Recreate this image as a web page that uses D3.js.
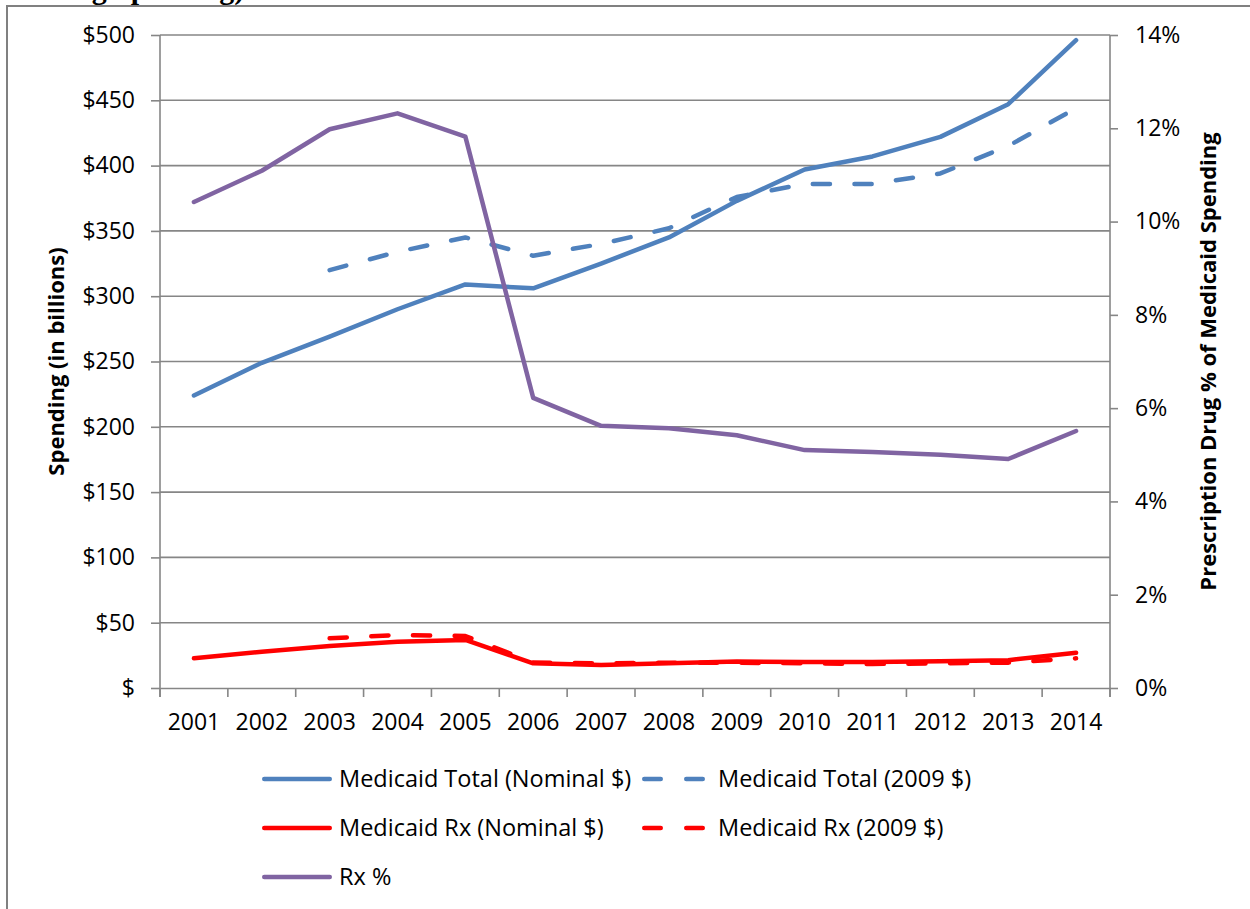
<!DOCTYPE html>
<html lang="en">
<head>
    <meta charset="UTF-8">
    <title>Medicaid Spending</title>
    <script src="https://d3js.org/d3.v7.min.js"></script>
    <style>
        body { margin: 0; background: #fff; }
        svg { display: block; }
        text { font-family: "Open Sans", Lato, sans-serif; fill: #000; }
        .axis path, .axis line { stroke: #868686; stroke-width: 1.6px; }
        .grid line { stroke: #868686; stroke-width: 1.6px; }
        .series { fill: none; stroke-width: 4.5px; stroke-linejoin: round; stroke-linecap: round; }
    </style>
</head>
<body>
    <svg width="1250" height="909"></svg>
    <script>
        // data
        const years = [2001, 2002, 2003, 2004, 2005, 2006, 2007, 2008, 2009, 2010, 2011, 2012, 2013, 2014];
        const totalNominal = [224, 249, 269, 290, 309, 306, 325, 345, 373, 397, 407, 422, 447, 496];
        const totalReal = [null, null, 320, 334, 345, 331, 340, 352, 376, 386, 386, 394, 415, 444];
        const rxNominal = [22.7, 27.8, 32.2, 35.5, 36.8, 18.9, 17.6, 19.0, 20.2, 20.0, 20.0, 20.5, 21.3, 27.0];
        const rxReal = [null, null, 38.0, 40.6, 39.8, 19.5, 18.9, 19.4, 19.4, 18.9, 18.4, 18.9, 19.4, 22.7];
        const rxPct = [10.42, 11.09, 11.98, 12.32, 11.82, 6.22, 5.62, 5.57, 5.42, 5.10, 5.06, 5.00, 4.91, 5.51];

        const leftTicks = [0, 50, 100, 150, 200, 250, 300, 350, 400, 450, 500];
        const rightTicks = [0, 2, 4, 6, 8, 10, 12, 14];

        const seriesNames = ["Medicaid Total (Nominal $)", "Medicaid Total (2009 $)", "Medicaid Rx (Nominal $)", "Medicaid Rx (2009 $)", "Rx %"];
        const seriesColors = ["#4f81bd", "#4f81bd", "#ff0000", "#ff0000", "#8064a2"];
        const seriesDashed = [false, true, false, true, false];

        const svg = d3.select("svg");

        const plotLeft = 160, plotRight = 1110, plotTop = 35, plotBottom = 688;

        const x = d3.scaleBand().domain(years).range([plotLeft, plotRight]);
        const xc = d => x(d) + x.bandwidth() / 2;
        const y = d3.scaleLinear().domain([0, 500]).range([plotBottom, plotTop]);
        const y2 = d3.scaleLinear().domain([0, 14]).range([plotBottom, plotTop]);

        // outer frame (only top and left edges visible)
        svg.append("rect")
            .attr("x", 7).attr("y", 6)
            .attr("width", 1400).attr("height", 1200)
            .attr("fill", "none")
            .attr("stroke", "#808080")
            .attr("stroke-width", 2);

        // title, cut off at the top edge of the picture
        svg.append("text")
            .attr("x", 40).attr("y", -1)
            .style("font-family", "'Liberation Serif', serif")
            .style("font-weight", "bold")
            .style("font-size", "30px")
            .text("Drug Spending)");

        // gridlines
        svg.append("g")
            .attr("class", "grid")
            .selectAll("line")
            .data(leftTicks.filter(d => d > 0))
            .enter().append("line")
            .attr("x1", plotLeft).attr("x2", plotRight)
            .attr("y1", d => y(d)).attr("y2", d => y(d));

        // left axis
        const gLeft = svg.append("g")
            .attr("class", "axis")
            .attr("transform", `translate(${plotLeft},0)`)
            .call(d3.axisLeft(y).tickValues(leftTicks).tickSize(9).tickSizeOuter(0).tickPadding(16)
                .tickFormat(d => d === 0 ? "$" : "$" + d));
        gLeft.select(".domain").attr("d", `M0,${plotTop}V${plotBottom + 9}`);
        gLeft.selectAll("text").style("font-size", "23px");

        // right axis
        const gRight = svg.append("g")
            .attr("class", "axis")
            .attr("transform", `translate(${plotRight},0)`)
            .call(d3.axisRight(y2).tickValues(rightTicks).tickSize(8).tickSizeOuter(0).tickPadding(17)
                .tickFormat(d => d + "%"));
        gRight.select(".domain").attr("d", `M0,${plotTop}V${plotBottom + 9}`);
        gRight.selectAll("text").style("font-size", "23px");

        // bottom axis: labels centred, ticks between categories
        const gBottom = svg.append("g")
            .attr("class", "axis")
            .attr("transform", `translate(0,${plotBottom})`)
            .call(d3.axisBottom(x).tickSize(0).tickSizeOuter(0).tickPadding(26));
        gBottom.selectAll("text").style("font-size", "23px");
        gBottom.selectAll(".tick line").remove();
        gBottom.selectAll("line.sep")
            .data(years.map(d => x(d)).concat([plotRight]))
            .enter().append("line")
            .attr("class", "sep")
            .attr("x1", d => d).attr("x2", d => d)
            .attr("y1", 0).attr("y2", 9);

        // axis titles
        svg.append("text")
            .attr("transform", `translate(64,${(plotTop + plotBottom) / 2}) rotate(-90)`)
            .attr("text-anchor", "middle")
            .style("font-weight", "bold")
            .style("font-size", "22px")
            .text("Spending (in billions)");

        svg.append("text")
            .attr("transform", `translate(1216,${(plotTop + plotBottom) / 2}) rotate(-90)`)
            .attr("text-anchor", "middle")
            .style("font-weight", "bold")
            .style("font-size", "22px")
            .text("Prescription Drug % of Medicaid Spending");

        // series
        const seriesData = [totalNominal, totalReal, rxNominal, rxReal, rxPct];
        const seriesScale = [y, y, y, y, y2];

        seriesData.forEach((vals, i) => {
            const sc = seriesScale[i];
            const line = d3.line()
                .defined(d => d[1] != null)
                .x(d => xc(d[0]))
                .y(d => sc(d[1]));
            svg.append("path")
                .datum(years.map((yr, j) => [yr, vals[j]]))
                .attr("class", "series")
                .attr("stroke", seriesColors[i])
                .attr("stroke-dasharray", seriesDashed[i] ? "17.2,24.5" : null)
                .attr("d", line);
        });

        // legend
        const legend = svg.append("g").attr("class", "legend");
        seriesNames.forEach((name, i) => {
            const col = i % 2, row = Math.floor(i / 2);
            const ly = 779 + row * 49;
            const g = legend.append("g");
            if (col === 0) {
                g.append("line")
                    .attr("class", "series")
                    .attr("x1", 264.25).attr("x2", 329.75)
                    .attr("y1", ly).attr("y2", ly)
                    .attr("stroke", seriesColors[i]);
                g.append("text")
                    .attr("x", 339).attr("y", ly).attr("dy", "0.35em")
                    .style("font-size", "23.5px")
                    .text(name);
            } else {
                g.append("line")
                    .attr("class", "series")
                    .attr("x1", 644.25).attr("x2", 703.75)
                    .attr("y1", ly).attr("y2", ly)
                    .attr("stroke", seriesColors[i])
                    .attr("stroke-dasharray", "16.5,25.5");
                g.append("text")
                    .attr("x", 718).attr("y", ly).attr("dy", "0.35em")
                    .style("font-size", "23.5px")
                    .text(name);
            }
        });
    </script>
</body>
</html>
